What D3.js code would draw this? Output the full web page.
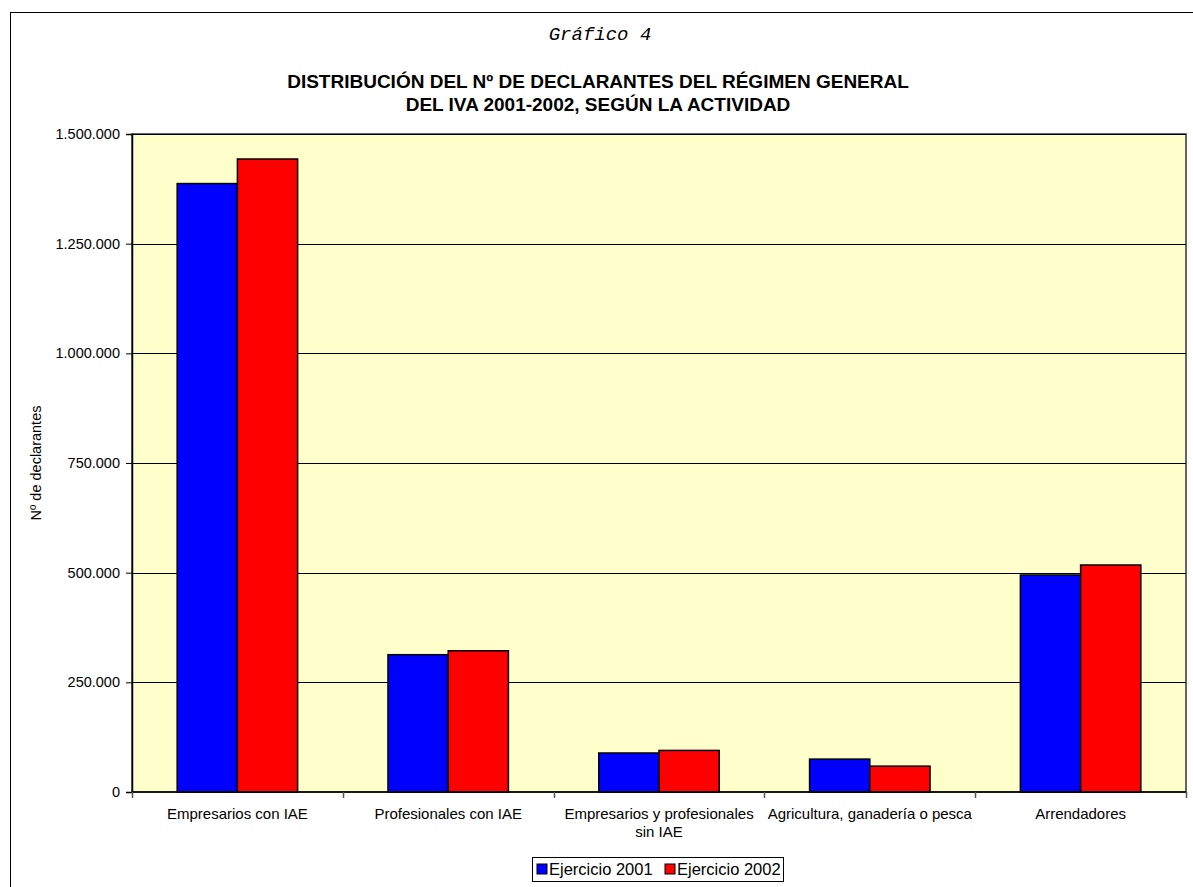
<!DOCTYPE html>
<html>
<head>
<meta charset="utf-8">
<script src="https://cdn.jsdelivr.net/npm/d3@7"></script>
<style>
  body { margin: 0; background: #fff; }
  text { font-family: "Liberation Sans", Arial, sans-serif; fill: #000; }
</style>
</head>
<body>
<svg id="chart" width="1193" height="887"></svg>
<script>
var categories = ["Empresarios con IAE", "Profesionales con IAE", "Empresarios y profesionales|sin IAE", "Agricultura, ganadería o pesca", "Arrendadores"];
var series = ["Ejercicio 2001", "Ejercicio 2002"];
var values2001 = [1387000, 313000, 88900, 75000, 494700];
var values2002 = [1443000, 322000, 94800, 59000, 517500];
var yTicks = [0, 250000, 500000, 750000, 1000000, 1250000, 1500000];
var colors = ["#0000FF", "#FF0000"];

var svg = d3.select("#chart"),
    WIDTH = 1193,
    HEIGHT = 887,
    MARGINS = { top: 134, right: 7, bottom: 95, left: 132 };

var fmt = function(v) { return d3.format(",")(v).replace(/,/g, "."); };

// outer frame
svg.append("rect")
  .attr("x", 10.5).attr("y", 12.5)
  .attr("width", 1200).attr("height", 900)
  .attr("fill", "#fff").attr("stroke", "#000").attr("stroke-width", 1);

var xScale = d3.scaleBand()
  .domain(categories)
  .range([MARGINS.left, WIDTH - MARGINS.right]);

// gap width 150% between groups
var xInner = d3.scaleBand()
  .domain(series)
  .range([0, xScale.bandwidth()])
  .paddingInner(0)
  .paddingOuter(0.75);

var yScale = d3.scaleLinear()
  .domain([0, 1500000])
  .range([HEIGHT - MARGINS.bottom, MARGINS.top]);

var y0 = yScale(0);

// plot area
svg.append("rect")
  .attr("x", MARGINS.left).attr("y", MARGINS.top)
  .attr("width", WIDTH - MARGINS.right - MARGINS.left)
  .attr("height", y0 - MARGINS.top)
  .attr("fill", "#FFFFCC")
  .attr("stroke", "#333").attr("stroke-width", 1.5);

// gridlines
svg.append("g").selectAll("line")
  .data(yTicks.slice(1))
  .enter().append("line")
  .attr("x1", MARGINS.left).attr("x2", WIDTH - MARGINS.right)
  .attr("y1", function(d) { return Math.round(yScale(d)) + 0.5; })
  .attr("y2", function(d) { return Math.round(yScale(d)) + 0.5; })
  .attr("stroke", "#000").attr("stroke-width", 1);

// bars
var data = categories.map(function(c, i) {
  return { cat: c, vals: [values2001[i], values2002[i]] };
});

var groups = svg.append("g").selectAll("g")
  .data(data)
  .enter().append("g")
  .attr("transform", function(d) { return "translate(" + xScale(d.cat) + ",0)"; });

groups.selectAll("rect")
  .data(function(d) { return d.vals.map(function(v, j) { return { s: series[j], v: v, j: j }; }); })
  .enter().append("rect")
  .attr("x", function(d) { return xInner(d.s); })
  .attr("width", xInner.bandwidth())
  .attr("y", function(d) { return yScale(d.v); })
  .attr("height", function(d) { return y0 - yScale(d.v); })
  .attr("fill", function(d) { return colors[d.j]; })
  .attr("stroke", "#000").attr("stroke-width", 1.5);

// y axis
var yAxis = d3.axisLeft(yScale)
  .tickValues(yTicks)
  .tickFormat(fmt)
  .tickSize(6)
  .tickPadding(6);

var gy = svg.append("g")
  .attr("transform", "translate(" + MARGINS.left + ",0)")
  .call(yAxis);
gy.select(".domain").attr("stroke", "#000").attr("stroke-width", 1.5);
gy.selectAll(".tick line").attr("stroke", "#000");
gy.selectAll("text").style("font-size", "14.5px").attr("font-family", "Liberation Sans, Arial, sans-serif");

// x axis (ticks at category boundaries)
var gx = svg.append("g")
  .attr("transform", "translate(0," + y0 + ")");
gx.append("line")
  .attr("x1", MARGINS.left).attr("x2", WIDTH - MARGINS.right)
  .attr("y1", 0).attr("y2", 0)
  .attr("stroke", "#000").attr("stroke-width", 1.5);
var bounds = categories.map(function(c) { return xScale(c); }).concat([WIDTH - MARGINS.right]);
gx.selectAll(".bt")
  .data(bounds)
  .enter().append("line")
  .attr("x1", function(d) { return Math.round(d) + 0.5; })
  .attr("x2", function(d) { return Math.round(d) + 0.5; })
  .attr("y1", 0).attr("y2", 6)
  .attr("stroke", "#555").attr("stroke-width", 1.5);

var labels = gx.selectAll(".cl")
  .data(categories)
  .enter().append("text")
  .attr("text-anchor", "middle")
  .style("font-size", "15px")
  .attr("transform", function(d) { return "translate(" + (xScale(d) + xScale.bandwidth() / 2) + ",27)"; });
labels.selectAll("tspan")
  .data(function(d) { return d.split("|"); })
  .enter().append("tspan")
  .attr("x", 0)
  .attr("dy", function(d, i) { return i === 0 ? 0 : 18; })
  .text(function(d) { return d; });

// y title
svg.append("text")
  .attr("transform", "translate(41,463) rotate(-90)")
  .attr("text-anchor", "middle")
  .style("font-size", "14.5px")
  .text("Nº de declarantes");

// titles
svg.append("text")
  .attr("x", 600).attr("y", 40)
  .attr("text-anchor", "middle")
  .style("font-family", "'Liberation Mono', 'Courier New', monospace")
  .style("font-style", "italic")
  .style("font-size", "19px")
  .text("Gráfico 4");

var title = svg.append("text")
  .attr("text-anchor", "middle")
  .style("font-weight", "bold")
  .style("font-size", "19px");
title.append("tspan").attr("x", 598).attr("y", 88).text("DISTRIBUCIÓN DEL Nº DE DECLARANTES DEL RÉGIMEN GENERAL");
title.append("tspan").attr("x", 598).attr("y", 111).text("DEL IVA 2001-2002, SEGÚN LA ACTIVIDAD");

// legend
var lx = 532, ly = 857, lw = 251, lh = 24;
var legend = svg.append("g");
legend.append("rect")
  .attr("x", lx + 0.5).attr("y", ly + 0.5)
  .attr("width", lw).attr("height", lh)
  .attr("fill", "#fff").attr("stroke", "#000").attr("stroke-width", 1);
var items = legend.selectAll(".li")
  .data(series)
  .enter().append("g")
  .attr("transform", function(d, i) { return "translate(" + (lx + 5 + i * 128) + "," + (ly + 7) + ")"; });
items.append("rect")
  .attr("width", 10).attr("height", 10)
  .attr("fill", function(d, i) { return colors[i]; })
  .attr("stroke", "#000").attr("stroke-width", 1);
items.append("text")
  .attr("x", 12).attr("y", 11)
  .style("font-size", "16.5px")
  .text(function(d) { return d; });
</script>
</body>
</html>
